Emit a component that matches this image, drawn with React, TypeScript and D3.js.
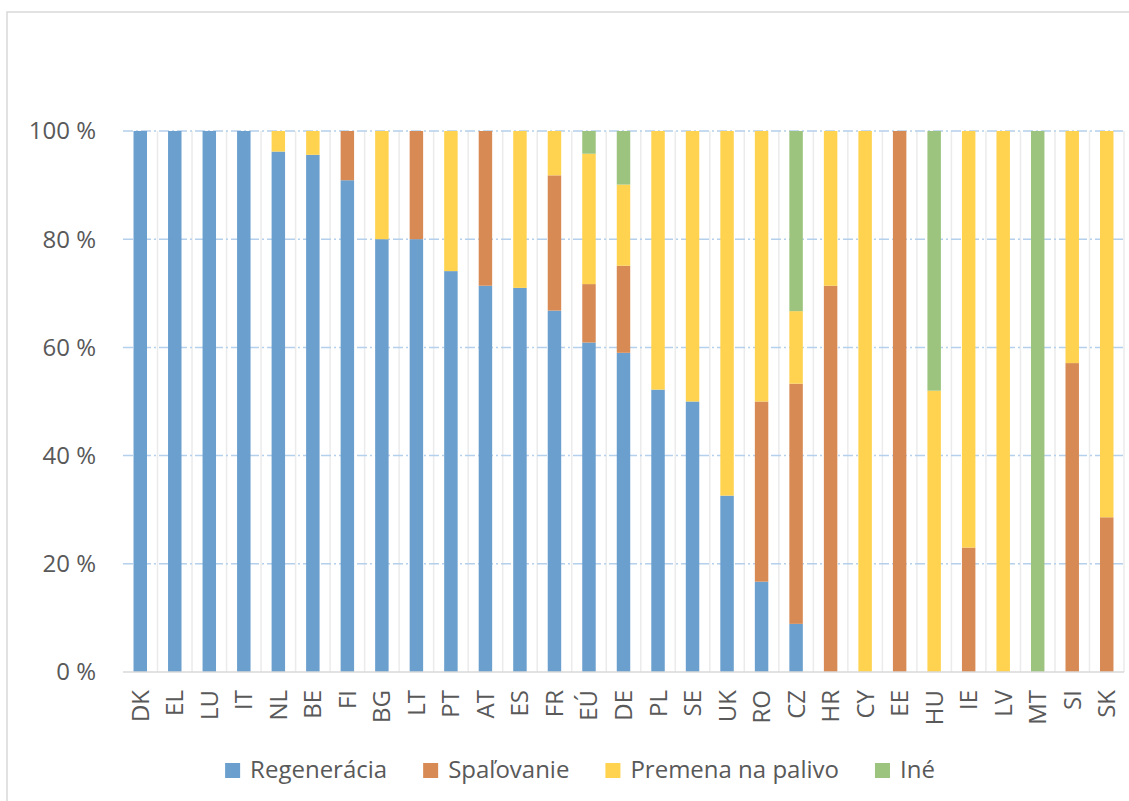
import React, { useEffect, useRef } from "react";
import * as d3 from "d3";

const categories = [
  "DK", "EL", "LU", "IT", "NL", "BE", "FI", "BG", "LT", "PT", "AT", "ES", "FR", "EÚ", "DE",
  "PL", "SE", "UK", "RO", "CZ", "HR", "CY", "EE", "HU", "IE", "LV", "MT", "SI", "SK",
];
const regeneracia = [100, 100, 100, 100, 96.2, 95.6, 90.9, 80, 80, 74.1, 71.4, 71.0, 66.8, 60.9, 59.0, 52.2, 50.0, 32.6, 16.7, 8.9, 0, 0, 0, 0, 0, 0, 0, 0, 0];
const spalovanie = [0, 0, 0, 0, 0, 0, 9.1, 0, 20, 0, 28.6, 0, 25.0, 10.8, 16.1, 0, 0, 0, 33.3, 44.4, 71.4, 0, 100, 0, 23.0, 0, 0, 57.1, 28.6];
const premena = [0, 0, 0, 0, 3.8, 4.4, 0, 20, 0, 25.9, 0, 29.0, 8.2, 24.1, 15.0, 47.8, 50.0, 67.4, 50.0, 13.4, 28.6, 100, 0, 52.0, 77.0, 100, 0, 42.9, 71.4];
const ine = [0, 0, 0, 0, 0, 0, 0, 0, 0, 0, 0, 0, 0, 4.2, 9.9, 0, 0, 0, 0, 33.3, 0, 0, 0, 48.0, 0, 0, 100, 0, 0];
const seriesNames = ["Regenerácia", "Spaľovanie", "Premena na palivo", "Iné"];
const yTicks = [0, 20, 40, 60, 80, 100];

const COLORS = ["#6A9FCE", "#D88A55", "#FFD34F", "#9CC47E"];
const W = 1129;
const H = 801;
const M = { LEFT: 123, RIGHT: 5, TOP: 131, BOTTOM: 129 };
const FONT = "'Open Sans', sans-serif";
const FS = 24;

export default function App() {
  const ref = useRef<SVGSVGElement>(null);

  useEffect(() => {
    const svg = d3.select(ref.current);
    svg.selectAll("*").remove();

    const rows = categories.map((c, i) => ({
      cat: c,
      s0: regeneracia[i],
      s1: spalovanie[i],
      s2: premena[i],
      s3: ine[i],
    }));
    const keys = ["s0", "s1", "s2", "s3"];
    const stacked = d3.stack<any>().keys(keys)(rows);

    const x = d3
      .scaleBand()
      .domain(categories)
      .range([M.LEFT, W - M.RIGHT])
      .paddingInner(0.61)
      .paddingOuter(0.305);
    const xb = d3.scaleBand().domain(categories).range([M.LEFT, W - M.RIGHT]);
    const y = d3.scaleLinear().domain([0, 100]).range([H - M.BOTTOM, M.TOP]);

    // chart border (only left / top visible)
    svg.append("rect")
      .attr("x", 7).attr("y", 12)
      .attr("width", W + 40).attr("height", H + 40)
      .attr("fill", "none")
      .attr("stroke", "#D9D9D9")
      .attr("stroke-width", 1.5);

    // vertical category gridlines
    svg.append("g")
      .selectAll("line")
      .data(categories)
      .enter()
      .append("line")
      .attr("x1", (d) => (xb(d) as number) + xb.bandwidth())
      .attr("x2", (d) => (xb(d) as number) + xb.bandwidth())
      .attr("y1", y(100))
      .attr("y2", y(0))
      .attr("stroke", "#EBEBEB")
      .attr("stroke-width", 1.5);

    // horizontal gridlines
    svg.append("g")
      .selectAll("line")
      .data(yTicks.filter((t) => t > 0))
      .enter()
      .append("line")
      .attr("x1", M.LEFT)
      .attr("x2", W - M.RIGHT)
      .attr("y1", (d) => y(d))
      .attr("y2", (d) => y(d))
      .attr("stroke", "#B4D0EC")
      .attr("stroke-width", 1.5)
      .attr("stroke-dasharray", "10,3,2,3");

    // bars
    svg.append("g")
      .selectAll("g")
      .data(stacked)
      .enter()
      .append("g")
      .attr("fill", (d, i) => COLORS[i])
      .selectAll("rect")
      .data((d) => d)
      .enter()
      .append("rect")
      .attr("x", (d: any) => x(d.data.cat) as number)
      .attr("width", x.bandwidth())
      .attr("y", (d) => y(d[1]))
      .attr("height", (d) => y(d[0]) - y(d[1]));

    // x axis line
    svg.append("line")
      .attr("x1", M.LEFT)
      .attr("x2", W - M.RIGHT)
      .attr("y1", y(0))
      .attr("y2", y(0))
      .attr("stroke", "#D9D9D9")
      .attr("stroke-width", 1.5);

    // y tick labels
    svg.append("g")
      .selectAll("text")
      .data(yTicks)
      .enter()
      .append("text")
      .attr("x", 96)
      .attr("y", (d) => y(d))
      .attr("dy", "0.35em")
      .attr("text-anchor", "end")
      .attr("font-family", FONT)
      .attr("font-size", FS)
      .attr("fill", "#595959")
      .text((d) => `${d} %`);

    // category labels
    svg.append("g")
      .selectAll("text")
      .data(categories)
      .enter()
      .append("text")
      .attr("transform", (d) => `translate(${(xb(d) as number) + xb.bandwidth() / 2 + 8.5}, 690) rotate(-90)`)
      .attr("text-anchor", "end")
      .attr("font-family", FONT)
      .attr("font-size", FS)
      .attr("fill", "#595959")
      .text((d) => d);

    // legend
    const lg = svg.append("g");
    let cx = 0;
    seriesNames.forEach((name, i) => {
      const item = lg.append("g").attr("transform", `translate(${cx},0)`);
      item.append("rect")
        .attr("x", 0).attr("y", -7)
        .attr("width", 15).attr("height", 15)
        .attr("fill", COLORS[i]);
      const t = item.append("text")
        .attr("x", 25)
        .attr("y", 0)
        .attr("dy", "0.35em")
        .attr("font-family", FONT)
        .attr("font-size", FS)
        .attr("fill", "#595959")
        .text(name);
      const tw = (t.node() as SVGTextElement).getComputedTextLength();
      cx += 25 + tw + 36;
    });
    const total = cx - 36;
    lg.attr("transform", `translate(${580 - total / 2}, 770)`);
  }, []);

  return (
    <svg
      ref={ref}
      width={W}
      height={H}
      style={{ position: "absolute", left: 0, top: 0, background: "#fff" }}
    />
  );
}
